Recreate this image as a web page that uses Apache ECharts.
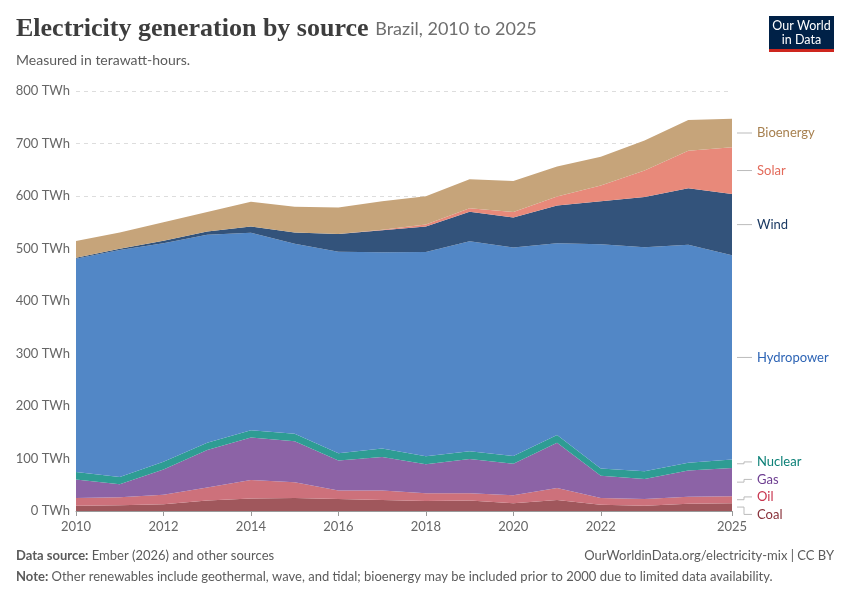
<!DOCTYPE html>
<html>
<head>
<meta charset="utf-8">
<script src="https://cdn.jsdelivr.net/npm/echarts@6/dist/echarts.min.js"></script>
<style>
  html, body { margin: 0; padding: 0; background: #fff; }
  #chart { width: 850px; height: 600px; }
</style>
</head>
<body>
<div id="chart"></div>
<script>
// Brazil electricity generation by source, TWh
const years = ['2010', '2011', '2012', '2013', '2014', '2015', '2016', '2017',
  '2018', '2019', '2020', '2021', '2022', '2023', '2024', '2025'];
const shownYears = ['2010', '2012', '2014', '2016', '2018', '2020', '2022', '2025'];

const coal = [10, 11, 13, 20, 24, 25, 23, 21, 19, 20, 15, 21, 12, 10, 14, 15];
const oil = [15, 15, 18, 25, 35, 30, 16, 18, 15, 14, 15, 23, 13, 13, 13, 13];
const gas = [35, 25, 48, 71, 81, 78, 57, 64, 55, 65, 60, 86, 42, 38, 50, 54];
const nuclear = [14.5, 14, 15, 14, 14, 14, 14, 16, 15.5, 15, 15, 15, 14, 14.5, 15, 16];
const hydropower = [406, 432, 416, 396, 376, 362, 384, 374, 389, 400, 397, 365, 427, 427, 415, 389];
const wind = [2, 2.7, 5, 6.5, 12, 21.6, 33.5, 42, 48.5, 56, 57, 72, 82, 95.5, 108, 117];
const solar = [0, 0, 0, 0, 0.1, 0.1, 0.1, 0.8, 3.5, 6.7, 10.7, 17, 30, 50.5, 71, 89];
const bioenergy = [32, 31, 35, 37, 47, 49, 50.5, 54, 54, 55, 59, 57, 55, 57, 59, 54];

// bottom to top
const sources = [
  { name: 'Coal', data: coal, fill: '#a0575c', text: '#883039' },
  { name: 'Oil', data: oil, fill: '#cd717b', text: '#c8344e' },
  { name: 'Gas', data: gas, fill: '#8c63a6', text: '#6d3e91' },
  { name: 'Nuclear', data: nuclear, fill: '#2e9c93', text: '#0c8077' },
  { name: 'Hydropower', data: hydropower, fill: '#5287c6', text: '#2d64b5' },
  { name: 'Wind', data: wind, fill: '#33537b', text: '#1b3a63' },
  { name: 'Solar', data: solar, fill: '#e8897a', text: '#e36a5a' },
  { name: 'Bioenergy', data: bioenergy, fill: '#c6a47a', text: '#a7804f' }
];

const font = 'Lato, "Noto Sans", sans-serif';
const chart = echarts.init(document.getElementById('chart'));

chart.setOption({
  animation: false,
  grid: { left: 76, right: 118, top: 91, bottom: 89 },
  xAxis: {
    type: 'category',
    data: years,
    boundaryGap: false,
    axisLine: { lineStyle: { color: '#999' } },
    axisTick: {
      interval: (i, v) => shownYears.includes(v),
      length: 5,
      lineStyle: { color: '#999' }
    },
    axisLabel: {
      interval: (i, v) => shownYears.includes(v),
      color: '#666', fontSize: 13, fontFamily: font, margin: 9
    },
    splitLine: { show: false }
  },
  yAxis: {
    type: 'value',
    min: 0, max: 800, interval: 100,
    axisLine: { show: false },
    axisTick: { show: false },
    axisLabel: {
      formatter: v => v + ' TWh',
      color: '#666', fontSize: 13, fontFamily: font, margin: 6
    },
    splitLine: { lineStyle: { color: '#ddd', type: [4, 4] } }
  },
  series: sources.map(s => ({
    name: s.name,
    type: 'line',
    stack: 'total',
    data: s.data,
    symbol: 'none',
    lineStyle: { width: 0 },
    areaStyle: { color: s.fill, opacity: 1 },
    itemStyle: { color: s.fill }
  })),
  graphic: [
    {
      type: 'text', left: 16, top: 16,
      style: {
        text: '{t|Electricity generation by source}  {s|Brazil, 2010 to 2025}',
        rich: {
          t: { fontFamily: '"Liberation Serif", serif', fontWeight: 'bold', fontSize: 26, fill: '#3d3d3d' },
          s: { fontFamily: font, fontSize: 18, fill: '#6e6e6e' }
        }
      }
    },
    {
      type: 'text', left: 16, top: 53,
      style: { text: 'Measured in terawatt-hours.', fontFamily: font, fontSize: 14, fill: '#5b5b5b' }
    },
    {
      type: 'group', right: 16, top: 16,
      children: [
        { type: 'rect', shape: { x: 0, y: 0, width: 65, height: 33 }, style: { fill: '#002147' } },
        { type: 'rect', shape: { x: 0, y: 33, width: 65, height: 3 }, style: { fill: '#ce261e' } },
        {
          type: 'text', x: 32.5, y: 17,
          style: {
            text: 'Our World\nin Data', align: 'center', verticalAlign: 'middle',
            fontFamily: font, fontSize: 12.5, lineHeight: 14, fill: '#fff'
          }
        }
      ]
    },
    {
      type: 'text', left: 16, top: 549,
      style: {
        text: '{b|Data source:} Ember (2026) and other sources',
        fontFamily: font, fontSize: 13, fill: '#5b5b5b',
        rich: { b: { fontFamily: font, fontSize: 13, fontWeight: 'bold', fill: '#5b5b5b' } }
      }
    },
    {
      type: 'text', right: 16, top: 549,
      style: { text: 'OurWorldinData.org/electricity-mix | CC BY', fontFamily: font, fontSize: 13, fill: '#5b5b5b' }
    },
    {
      type: 'text', left: 16, top: 570,
      style: {
        text: '{b|Note:} Other renewables include geothermal, wave, and tidal; bioenergy may be included prior to 2000 due to limited data availability.',
        fontFamily: font, fontSize: 13, fill: '#5b5b5b',
        rich: { b: { fontFamily: font, fontSize: 13, fontWeight: 'bold', fill: '#5b5b5b' } }
      }
    }
  ]
});

// right-hand labels placed at the middle of each band in the last year
const last = years.length - 1;
let cum = 0;
const labels = sources.map(s => {
  const v = s.data[last];
  const mid = cum + v / 2;
  cum += v;
  const y = chart.convertToPixel({ gridIndex: 0 }, [last, mid])[1];
  return { name: s.name, color: s.text, target: y, y: y };
}).sort((a, b) => a.target - b.target);

const gap = 17.5;
for (let pass = 0; pass < 200; pass++) {
  for (let i = 0; i < labels.length - 1; i++) {
    const d = labels[i + 1].y - labels[i].y;
    if (d < gap) {
      const push = (gap - d) / 2;
      labels[i].y -= push;
      labels[i + 1].y += push;
    }
  }
}

const x0 = chart.convertToPixel({ gridIndex: 0 }, [last, 0])[0];
const extra = [];
labels.forEach(l => {
  const moved = Math.abs(l.y - l.target) > 1;
  extra.push({
    type: 'polyline',
    shape: {
      points: moved
        ? [[x0 + 5, l.target], [x0 + 12, l.target], [x0 + 12, l.y], [x0 + 20, l.y]]
        : [[x0 + 5, l.y], [x0 + 20, l.y]]
    },
    style: { stroke: '#bbb', lineWidth: 1, fill: null }
  });
  extra.push({
    type: 'text', x: x0 + 25, y: l.y,
    style: { text: l.name, fill: l.color, fontFamily: font, fontSize: 13, verticalAlign: 'middle' }
  });
});
chart.setOption({ graphic: chart.getOption().graphic[0].elements.concat(extra) });
</script>
</body>
</html>
